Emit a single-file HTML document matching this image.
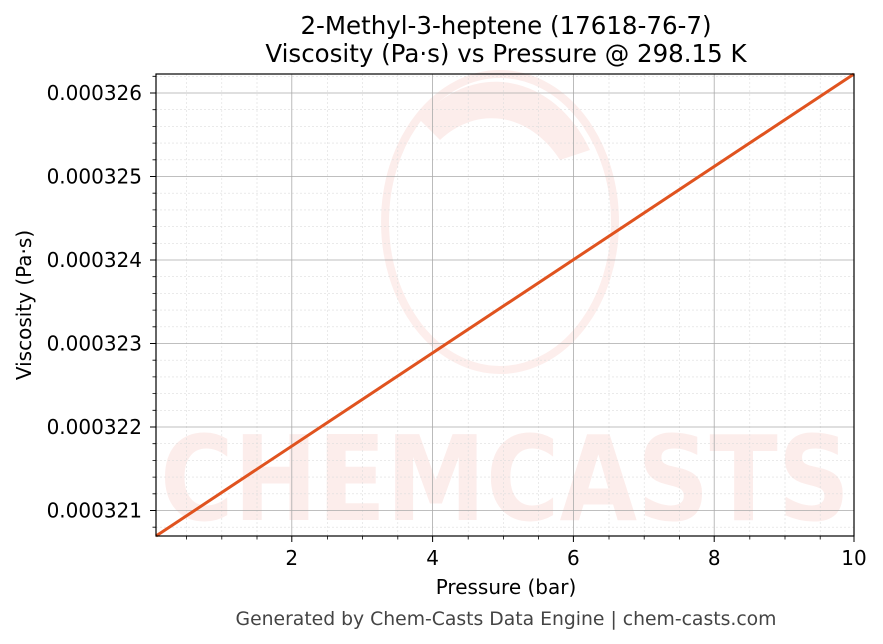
<!DOCTYPE html>
<html><head><meta charset="utf-8"><style>
body{margin:0;background:#fff;}
svg{display:block;font-family:"DejaVu Sans","Liberation Sans",sans-serif;}
</style></head><body>
<svg width="883" height="644" xmlns="http://www.w3.org/2000/svg">
<rect width="883" height="644" fill="#fff"/>
<g opacity="0.09" fill="#e8402a">
<ellipse cx="500" cy="222" rx="115" ry="148" fill="none" stroke="#e8402a" stroke-width="8"/>
<path d="M420 120 A110 140 0 0 1 590 150 L560 160 A90 120 0 0 0 440 140 Z"/>
<text x="505" y="520" font-size="118" font-weight="bold" text-anchor="middle" textLength="690" lengthAdjust="spacingAndGlyphs">CHEMCASTS</text>
</g>
<g stroke="#ddd" stroke-width="0.6" stroke-dasharray="2,2">
<line x1="186.6" y1="74" x2="186.6" y2="536"/><line x1="221.8" y1="74" x2="221.8" y2="536"/><line x1="257" y1="74" x2="257" y2="536"/>
<line x1="327.4" y1="74" x2="327.4" y2="536"/><line x1="362.6" y1="74" x2="362.6" y2="536"/><line x1="397.8" y1="74" x2="397.8" y2="536"/>
<line x1="468.2" y1="74" x2="468.2" y2="536"/><line x1="503.4" y1="74" x2="503.4" y2="536"/><line x1="538.6" y1="74" x2="538.6" y2="536"/>
<line x1="609" y1="74" x2="609" y2="536"/><line x1="644.2" y1="74" x2="644.2" y2="536"/><line x1="679.4" y1="74" x2="679.4" y2="536"/>
<line x1="749.8" y1="74" x2="749.8" y2="536"/><line x1="785" y1="74" x2="785" y2="536"/><line x1="820.2" y1="74" x2="820.2" y2="536"/>
<line x1="156" y1="76.3" x2="854" y2="76.3"/><line x1="156" y1="109.7" x2="854" y2="109.7"/><line x1="156" y1="126.4" x2="854" y2="126.4"/><line x1="156" y1="143.1" x2="854" y2="143.1"/><line x1="156" y1="159.8" x2="854" y2="159.8"/>
<line x1="156" y1="193.2" x2="854" y2="193.2"/><line x1="156" y1="209.9" x2="854" y2="209.9"/><line x1="156" y1="226.6" x2="854" y2="226.6"/><line x1="156" y1="243.3" x2="854" y2="243.3"/>
<line x1="156" y1="276.7" x2="854" y2="276.7"/><line x1="156" y1="293.4" x2="854" y2="293.4"/><line x1="156" y1="310.1" x2="854" y2="310.1"/><line x1="156" y1="326.8" x2="854" y2="326.8"/>
<line x1="156" y1="360.2" x2="854" y2="360.2"/><line x1="156" y1="376.9" x2="854" y2="376.9"/><line x1="156" y1="393.6" x2="854" y2="393.6"/><line x1="156" y1="410.3" x2="854" y2="410.3"/>
<line x1="156" y1="443.7" x2="854" y2="443.7"/><line x1="156" y1="460.4" x2="854" y2="460.4"/><line x1="156" y1="477.1" x2="854" y2="477.1"/><line x1="156" y1="493.8" x2="854" y2="493.8"/>
<line x1="156" y1="527.2" x2="854" y2="527.2"/>
</g>
<g stroke="#aaa" stroke-width="0.8">
<line x1="291.8" y1="74" x2="291.8" y2="536"/><line x1="432.6" y1="74" x2="432.6" y2="536"/><line x1="573.4" y1="74" x2="573.4" y2="536"/><line x1="714.2" y1="74" x2="714.2" y2="536"/>
<line x1="156" y1="93" x2="854" y2="93"/><line x1="156" y1="176.5" x2="854" y2="176.5"/><line x1="156" y1="260" x2="854" y2="260"/><line x1="156" y1="343.5" x2="854" y2="343.5"/><line x1="156" y1="427" x2="854" y2="427"/><line x1="156" y1="510.5" x2="854" y2="510.5"/>
</g>
<line x1="156" y1="536" x2="854" y2="74" stroke="#e0531f" stroke-width="3"/>
<rect x="156" y="74" width="698" height="462" fill="none" stroke="#000" stroke-width="1.2"/>
<g stroke="#000" stroke-width="1">
<line x1="291.8" y1="536" x2="291.8" y2="542"/><line x1="432.6" y1="536" x2="432.6" y2="542"/><line x1="573.4" y1="536" x2="573.4" y2="542"/><line x1="714.2" y1="536" x2="714.2" y2="542"/><line x1="854" y1="536" x2="854" y2="542"/>
<line x1="150" y1="93" x2="156" y2="93"/><line x1="150" y1="176.5" x2="156" y2="176.5"/><line x1="150" y1="260" x2="156" y2="260"/><line x1="150" y1="343.5" x2="156" y2="343.5"/><line x1="150" y1="427" x2="156" y2="427"/><line x1="150" y1="510.5" x2="156" y2="510.5"/>
</g>
<g stroke="#000" stroke-width="0.8">
<path d="M186.6 536v3.5M221.8 536v3.5M257 536v3.5M327.4 536v3.5M362.6 536v3.5M397.8 536v3.5M468.2 536v3.5M503.4 536v3.5M538.6 536v3.5M609 536v3.5M644.2 536v3.5M679.4 536v3.5M749.8 536v3.5M785 536v3.5M820.2 536v3.5"/>
<path d="M152.5 76.3h3.5M152.5 109.7h3.5M152.5 126.4h3.5M152.5 143.1h3.5M152.5 159.8h3.5M152.5 193.2h3.5M152.5 209.9h3.5M152.5 226.6h3.5M152.5 243.3h3.5M152.5 276.7h3.5M152.5 293.4h3.5M152.5 310.1h3.5M152.5 326.8h3.5M152.5 360.2h3.5M152.5 376.9h3.5M152.5 393.6h3.5M152.5 410.3h3.5M152.5 443.7h3.5M152.5 460.4h3.5M152.5 477.1h3.5M152.5 493.8h3.5M152.5 527.2h3.5"/>
</g>
<g font-size="20" fill="#000">
<g text-anchor="middle">
<text x="291.8" y="565">2</text><text x="432.6" y="565">4</text><text x="573.4" y="565">6</text><text x="714.2" y="565">8</text><text x="854" y="565">10</text>
<text x="506" y="594">Pressure (bar)</text>
<text x="506" y="34" font-size="24.5">2-Methyl-3-heptene (17618-76-7)</text>
<text x="506" y="62" font-size="24.5">Viscosity (Pa·s) vs Pressure @ 298.15 K</text>
</g>
<g text-anchor="end">
<text x="142" y="100">0.000326</text><text x="142" y="183.5">0.000325</text><text x="142" y="267">0.000324</text><text x="142" y="350.5">0.000323</text><text x="142" y="434">0.000322</text><text x="142" y="517.5">0.000321</text>
</g>
<text transform="translate(31,305) rotate(-90)" text-anchor="middle">Viscosity (Pa·s)</text>
<text x="506" y="625" text-anchor="middle" font-size="18.8" fill="#444">Generated by Chem-Casts Data Engine | chem-casts.com</text>
</g>
</svg>
</body></html>
